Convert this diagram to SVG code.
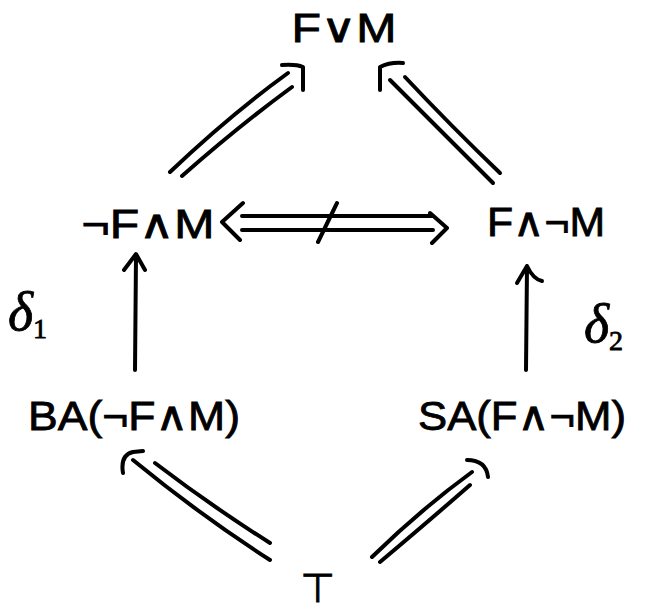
<svg xmlns="http://www.w3.org/2000/svg" width="652" height="615" viewBox="0 0 652 615">
<style>
.t{font-family:"Liberation Sans","DejaVu Sans",sans-serif;font-size:40px;fill:#000;stroke:#000;stroke-width:0.8}
.s{font-family:"Liberation Serif","DejaVu Serif",serif;font-style:italic;fill:#000;stroke:#000;stroke-width:0.8}
.l{fill:none;stroke:#000;stroke-width:4;stroke-linecap:round;stroke-linejoin:round}
</style>
<rect width="652" height="615" fill="#fff"/>
<g id="fvm"><text class="t" x="344" y="42" text-anchor="middle" textLength="105" lengthAdjust="spacingAndGlyphs">F∨M</text></g>
<g id="nfm"><text class="t" x="148" y="238" text-anchor="middle" textLength="133" lengthAdjust="spacingAndGlyphs">¬F∧M</text></g>
<g id="fnm"><text class="t" x="546" y="236" text-anchor="middle" textLength="118" lengthAdjust="spacingAndGlyphs">F∧¬M</text></g>
<g id="ba"><text class="t" x="134" y="430" text-anchor="middle" textLength="212" lengthAdjust="spacingAndGlyphs">BA(¬F∧M)</text></g>
<g id="sa"><text class="t" x="522" y="430" text-anchor="middle" textLength="208" lengthAdjust="spacingAndGlyphs">SA(F∧¬M)</text></g>
<g id="top"><text class="t" x="318" y="602" text-anchor="middle" font-size="54" stroke-width="2.5">⊤</text></g>
<g id="labels">
<text class="s" x="8" y="330" font-size="54">δ<tspan font-size="28" dy="8" font-style="normal">1</tspan></text>
<text class="s" x="584" y="342" font-size="54">δ<tspan font-size="28" dy="8" font-style="normal">2</tspan></text>
</g>
<g id="connectors">
<path class="l" d="M170,172 Q230,115 288,73 M182,176 Q240,125 292,87 M282,65 Q296,64 303,67 L303,90"/>
<path class="l" d="M493,183 Q440,130 390,80 M500,173 Q450,125 405,77 M380,90 L380,67 Q390,62 403,63"/>
<path class="l" d="M242,216 L433,216 M242,230 L433,230 M243,203 L222,222 L240,240 M430,213 L447,228 L432,243 M337,203 L318,242"/>
<path class="l" d="M135,370 L136,256 M124,270 L136,254 L145,270"/>
<path class="l" d="M526,370 L527,266 M517,283 L527,266 Q533,279 542,281"/>
<path class="l" d="M270,560 Q200,515 133,460 M270,543 Q210,505 155,463 M123,473 Q120,455 133,452 L143,451"/>
<path class="l" d="M372,557 Q420,510 472,472 M380,562 Q430,520 470,485 M467,460 Q486,460 488,477"/>
</g>
</svg>
